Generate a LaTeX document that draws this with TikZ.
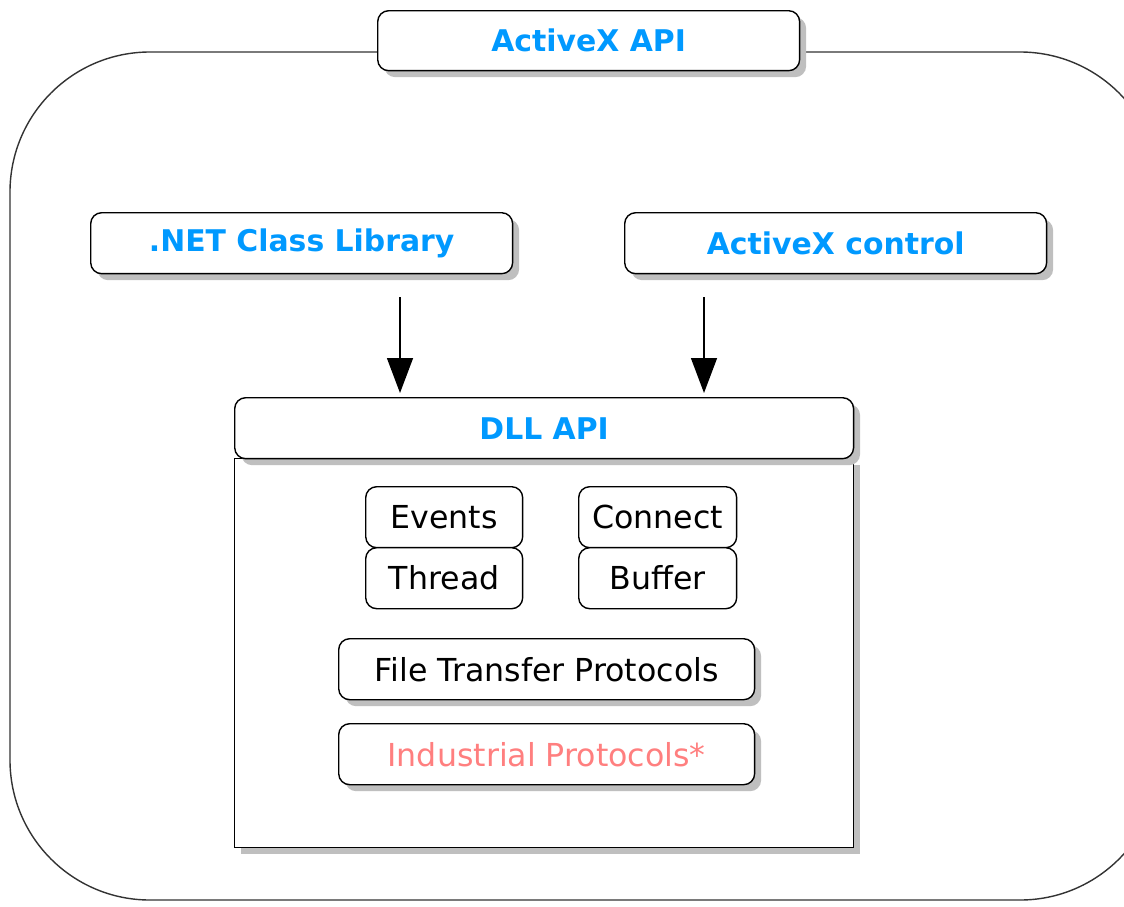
\documentclass[tikz,border=0pt]{standalone}
\usepackage{fontspec}
\setmainfont{DejaVu Sans}
\usetikzlibrary{shadows,arrows.meta}

\definecolor{apiblue}{HTML}{0099FF}
\definecolor{protored}{HTML}{FF7F7F}

\tikzset{
  x={(0.02cm,0)}, y={(0,-0.02cm)},
  boxshadow/.style={drop shadow={shadow xshift=0.13cm, shadow yshift=-0.13cm, fill=black!25, opacity=1}},
  roundbox/.style={draw, thick, fill=white, rounded corners=0.22cm, inner sep=0pt, anchor=north west},
  apibox/.style={roundbox, boxshadow, text=apiblue, font=\bfseries\fontsize{17}{20}\selectfont},
  modbox/.style={roundbox, font=\fontsize{18}{21}\selectfont},
  protobox/.style={modbox, boxshadow},
  flowarrow/.style={thick, -{Triangle[width=0.52cm, length=0.7cm]}}
}

\begin{document}
\begin{tikzpicture}
    \useasboundingbox (0,0) rectangle (1124,906);
    % outer frame
    \draw[thick, black!80, rounded corners=2.8cm] (10,52) rectangle (1160,900);

    \node[apibox, minimum width=8.44cm, minimum height=1.2cm] (activex) at (377,10) {ActiveX API};
    \node[apibox, minimum width=8.44cm, minimum height=1.22cm] (net) at (90,212) {.NET Class Library};
    \node[apibox, minimum width=8.44cm, minimum height=1.22cm] (control) at (624,212) {ActiveX control};

    % DLL body and title
    \node[draw, thick, fill=white, boxshadow, anchor=north west, minimum width=12.38cm, minimum height=7.78cm] (body) at (234,458) {};
    \node[apibox, minimum width=12.38cm, minimum height=1.22cm] (dll) at (234,397) {DLL API};

    \node[modbox, minimum width=3.14cm, minimum height=1.22cm] (events) at (365,486) {Events};
    \node[modbox, minimum width=3.14cm, minimum height=1.22cm] (thread) at (365,547) {Thread};
    \node[modbox, minimum width=3.16cm, minimum height=1.22cm] (connect) at (578,486) {Connect};
    \node[modbox, minimum width=3.16cm, minimum height=1.22cm] (buffer) at (578,547) {Buffer};
    \node[protobox, minimum width=8.32cm, minimum height=1.22cm] (filetransfer) at (338,638) {File Transfer Protocols};
    \node[protobox, minimum width=8.32cm, minimum height=1.22cm, text=protored] (industrial) at (338,723) {Industrial Protocols*};

    % arrows into the DLL
    \coordinate (netout) at (400,297);
    \coordinate (controlout) at (704,297);
    \draw[flowarrow, shorten >=0.08cm] (netout) -- (netout |- dll.north);
    \draw[flowarrow, shorten >=0.08cm] (controlout) -- (controlout |- dll.north);
\end{tikzpicture}
\end{document}
